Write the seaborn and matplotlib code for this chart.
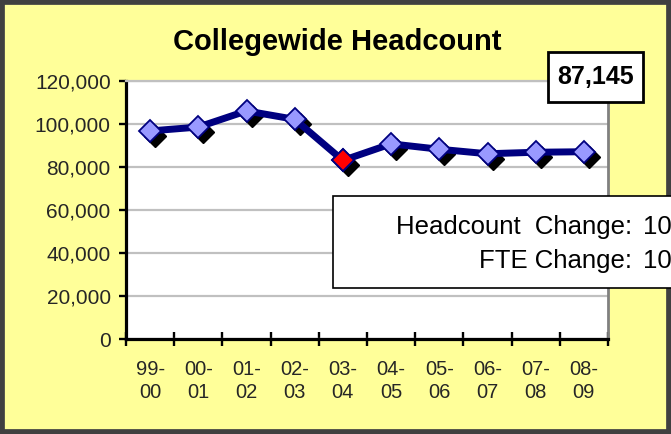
import matplotlib
matplotlib.use("Agg")
import matplotlib.pyplot as plt
import matplotlib.transforms as mtransforms
from matplotlib.patches import Rectangle
from matplotlib import font_manager
from matplotlib.ticker import FuncFormatter
import numpy as np
import pandas as pd
import seaborn as sns

# ---- data ----
years = ["99-\n00", "00-\n01", "01-\n02", "02-\n03", "03-\n04",
         "04-\n05", "05-\n06", "06-\n07", "07-\n08", "08-\n09"]
headcount = [96800, 98600, 106100, 102200, 83100, 90800, 88300, 86200, 86900, 87145]
highlight_index = 4
title_text = "Collegewide Headcount"
latest_label = "87,145"
change_labels = ["Headcount  Change:", "FTE Change:"]
change_values = ["10", "10"]
y_ticks = [0, 20000, 40000, 60000, 80000, 100000, 120000]

# ---- style ----
sns.set_style("white")
names = {f.name for f in font_manager.fontManager.ttflist}
NARROW = "Liberation Sans Narrow" in names
plt.rcParams["font.family"] = ["Liberation Sans", "DejaVu Sans"]
narrow_family = ["Liberation Sans Narrow", "Liberation Sans"] if NARROW else ["Liberation Sans"]

W, H = 671, 434
fig = plt.figure(figsize=(W / 100, H / 100), dpi=100)
fig.patch.set_facecolor("#FFFF99")

def px(x):
    return x / W

def py(y):
    return 1 - y / H

ax = fig.add_axes([px(126), py(339.3), px(608) - px(126), py(81) - py(339.3)])
ax.set_facecolor("white")

df = pd.DataFrame({"x": np.arange(len(years)), "value": headcount})

navy = "#000080"
face = "#9999FF"
shadow = mtransforms.offset_copy(ax.transData, fig=fig, x=5, y=-5, units="dots")

# marker shadows
ax.plot(df["x"], df["value"], ls="none", marker="D", ms=11,
        mfc="black", mec="black", transform=shadow, zorder=2)
# main line
sns.lineplot(data=df, x="x", y="value", ax=ax, color=navy, linewidth=5,
             marker="D", markersize=11, markerfacecolor=face, markeredgecolor=navy,
             markeredgewidth=1.3, sort=False, zorder=3)
# highlighted point
ax.plot(df["x"].iloc[highlight_index], df["value"].iloc[highlight_index], marker="D",
        ms=11, mfc="#FF0000", mec=navy, mew=1.3, ls="none", zorder=4)

ax.set_xlim(-0.5, len(years) - 0.5)
ax.set_ylim(0, 120000)
ax.set_xlabel("")
ax.set_ylabel("")

ax.set_yticks(y_ticks)
ax.yaxis.set_major_formatter(FuncFormatter(lambda v, p: f"{int(v):,}"))
ax.tick_params(axis="y", which="major", direction="out", length=5, width=1.7,
               color="black", labelsize=15, pad=6, left=True)
ax.grid(axis="y", color="#C0C0C0", linewidth=1.6)
ax.set_axisbelow(True)

ax.set_xticks(np.arange(len(years)))
ax.set_xticklabels(years, family=narrow_family, fontsize=15.5 if NARROW else 14.5,
                   linespacing=1.25)
ax.set_xticks(np.arange(-0.5, len(years), 1.0), minor=True)
ax.tick_params(axis="x", which="major", length=0, pad=15)
ax.tick_params(axis="x", which="minor", direction="inout", length=10.5, width=1.7,
               color="black", bottom=True)

for side in ["left", "bottom"]:
    ax.spines[side].set_color("black")
    ax.spines[side].set_linewidth(2.3)
ax.spines["right"].set_color("#808080")
ax.spines["right"].set_linewidth(2.0)
ax.spines["top"].set_color("#C0C0C0")
ax.spines["top"].set_linewidth(1.6)

# figure border
fig.patches.append(Rectangle((0, 0), 1, 1, transform=fig.transFigure, fill=False,
                             edgecolor="#404040", linewidth=7, zorder=1))

# title
fig.text(px(337), py(50), title_text, ha="center", va="baseline",
         fontsize=21, fontweight="bold", color="black")

# latest value box
fig.patches.append(Rectangle((px(548), py(102)), px(643) - px(548), py(52) - py(102),
                             transform=fig.transFigure, facecolor="white",
                             edgecolor="black", linewidth=2, zorder=5))
fig.text(px(596), py(84), latest_label, ha="center", va="baseline",
         fontsize=18, fontweight="bold", color="black", zorder=6)

# change box (extends beyond right edge)
fig.patches.append(Rectangle((px(333), py(288)), px(720) - px(333), py(196) - py(288),
                             transform=fig.transFigure, facecolor="white",
                             edgecolor="black", linewidth=1.2, zorder=5, clip_on=False))
csize = 21 if NARROW else 18.5
for lab, val, yb in zip(change_labels, change_values, [234, 268]):
    fig.text(px(632), py(yb), lab, ha="right", va="baseline", fontsize=csize,
             family=narrow_family, color="black", zorder=6)
    fig.text(px(643), py(yb), val, ha="left", va="baseline", fontsize=csize,
             family=narrow_family, color="black", zorder=6)

fig.savefig("out.png", dpi=100, facecolor=fig.get_facecolor())
